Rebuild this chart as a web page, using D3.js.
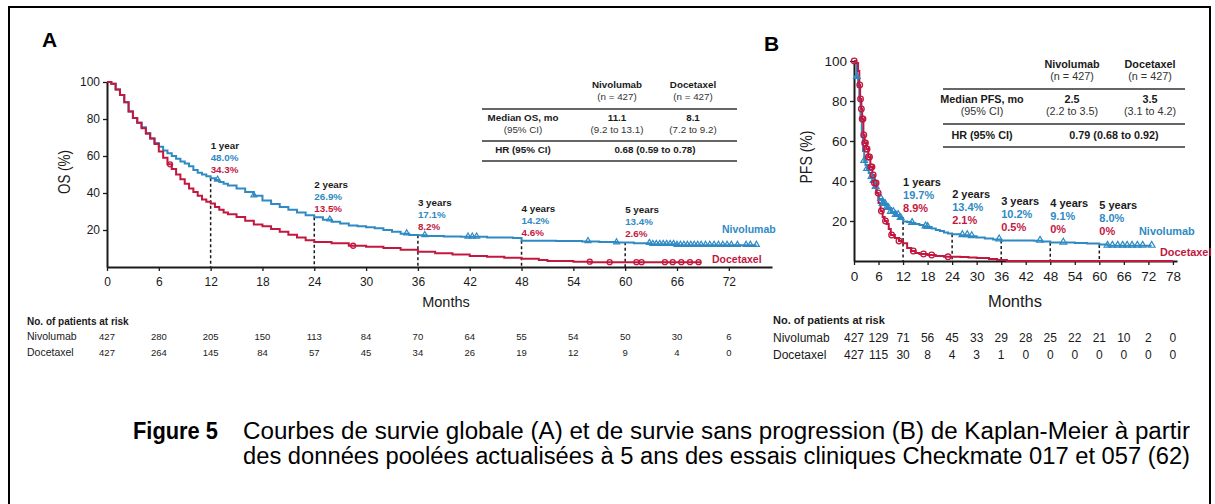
<!DOCTYPE html>
<html><head><meta charset="utf-8">
<script src="https://cdn.jsdelivr.net/npm/d3@7"></script>
<style>
body{margin:0;background:#fff}
svg{display:block}
text{font-family:"Liberation Sans",Arial,Helvetica,sans-serif}
</style>
</head><body>
<svg id="chart" width="1215" height="504"></svg>
<script>
// ---------------- DATA ----------------
const yTicks = [20, 40, 60, 80, 100];
const osXTicks = [0, 6, 12, 18, 24, 30, 36, 42, 48, 54, 60, 66, 72];
const pfsXTicks = [0, 6, 12, 18, 24, 30, 36, 42, 48, 54, 60, 66, 72, 78];

// Overall survival (months, %)
const osNivolumab = [[0,100],[0.5,99],[1,96],[1.5,93],[2,89],[2.5,84],[3,80.5],[3.5,78],[4,75.5],[4.5,72.5],[5,69.5],[5.5,67],[6,65],[6.5,63],[7,61.5],[7.5,60],[8,58.5],[8.5,57],[9,56],[9.5,54.5],[10,52.5],[10.5,51],[11,50],[11.5,49],[12,48],[12.5,47],[13,46],[13.5,45],[14,44],[15,42.5],[16,40.5],[17,38.5],[18,36],[19,34],[20,32.5],[21,31],[22,29.5],[23,28],[24,26.9],[25,25.5],[26,24.5],[27,23.5],[28,22.5],[29,22],[30,21.5],[31,21],[32,20],[33,19],[34,18],[35,17.3],[36,17.1],[37,16.8],[39,16.5],[41,16.3],[44,16],[47,15.7],[48,14.2],[52,14],[55,13.8],[57,13.5],[59,13.2],[61,12.8],[63,12.3],[66,11.8],[75.2,11.8]];
const osDocetaxel = [[0,100],[0.5,99],[1,96],[1.5,93],[2,89],[2.5,84],[3,80.5],[3.5,78],[4,75],[4.5,72],[5,69.5],[5.5,66.5],[6,62.5],[6.5,59],[7,55.5],[7.5,53],[8,50],[8.5,47.5],[9,45],[9.5,42.5],[10,40.5],[10.5,38.5],[11,36.5],[11.5,35.3],[12,34.3],[12.5,32.5],[13,31],[13.5,29.5],[14,28.5],[15,27],[16,25],[17,23],[18,22],[19,20.5],[20,19],[21,17.5],[22,16],[23,14.5],[24,13.5],[26,12.8],[28,11.5],[30,11],[32,10.3],[34,9.3],[36,8.2],[38,7.5],[40,6.8],[42,6],[44,5.5],[46,5],[48,4.4],[50,3.8],[51,3.2],[54,2.9],[56,2.6],[68.8,2.6]];
const osNivolumabCensor = [12.8,17.0,25.8,34.7,36.8,41.8,42.3,42.8,55.7,59.0,62.8,63.2,63.6,64.0,64.4,64.8,65.2,65.6,66.0,66.4,66.8,67.2,67.6,68.0,68.4,68.8,69.3,69.8,70.3,70.8,71.3,71.8,72.3,73.0,74.0,74.5,75.2];
const osDocetaxelCensor = [7.3,28.5,55.9,58.2,61.3,61.9,64.6,65.5,66.5,67.5,68.5];

// Progression-free survival (months, %)
const pfsNivolumab = [[0,100],[0.3,99],[0.7,92],[1,87],[1.3,80],[1.6,72],[1.9,62],[2.2,55],[2.5,50],[2.8,48],[3.2,46],[3.6,44],[4,42],[4.5,40],[5,37],[5.5,34],[6,31],[7,28.5],[8,26.5],[9,24.5],[10,23],[11,21.5],[12,19.7],[13,19.5],[14,19],[15,18.5],[16,18],[17,17.3],[18,17],[19,16.3],[20,15.5],[21,15],[22,14.2],[23,13.8],[24,13.4],[26,12.9],[28,12.4],[30,11.8],[32,11.2],[34,10.8],[36,10.3],[40,10.2],[44,10.1],[46,9.8],[48,9.3],[51,9.2],[54,9],[57,8.7],[60,8.2],[62,7.6],[72.8,7.6]];
const pfsDocetaxel = [[0,100],[0.5,99],[1,95],[1.3,88],[1.5,81],[1.8,76],[2,71],[2.3,63],[2.6,59],[3,56],[3.5,52],[4,47],[4.5,43],[5,39],[5.5,34],[6,29],[6.5,25],[7,22],[7.5,20],[8,18.5],[8.5,16],[9,13],[10,11.5],[11,10],[12,8.9],[13,6.5],[14,5],[15,4],[16,3.5],[18,3],[20,2.5],[22,2.1],[24,2.1],[26,2],[28,1.8],[30,1.5],[33,1],[35,0.5],[37.3,0.5],[37.4,0],[78,0]];
const pfsNivolumabCensor = [0.7,2.5,3.2,4.3,4.8,5.3,6.6,7.0,7.3,7.6,8.0,8.4,9.0,9.6,10.2,10.8,11.4,14.2,17.5,18.0,26.5,27.7,28.8,35.5,45.5,51.2,62.0,63.2,64.5,65.7,66.8,68.0,69.3,70.6,72.8];
const pfsDocetaxelCensor = [0.05,1.4,1.6,1.8,2.0,2.2,2.4,2.6,2.8,3.0,3.2,3.5,3.8,4.1,4.4,4.7,5.0,5.4,5.9,6.7,7.7,9.2,11.0,14.5,17.0,19.0,23.0];

// Landmarks
const osLandmarkMonths = [12, 24, 36, 48, 60];
const osLandmarkTitles = ["1 year", "2 years", "3 years", "4 years", "5 years"];
const osLandmarkNivolumab = [48.0, 26.9, 17.1, 14.2, 13.4];
const osLandmarkDocetaxel = [34.3, 13.5, 8.2, 4.6, 2.6];
const pfsLandmarkMonths = [12, 24, 36, 48, 60];
const pfsLandmarkTitles = ["1 years", "2 years", "3 years", "4 years", "5 years"];
const pfsLandmarkNivolumab = [19.7, 13.4, 10.2, 9.1, 8.0];
const pfsLandmarkDocetaxel = [8.9, 2.1, 0.5, 0, 0];

// Numbers at risk
const osRiskNivolumab = [427,280,205,150,113,84,70,64,55,54,50,30,6];
const osRiskDocetaxel = [427,264,145,84,57,45,34,26,19,12,9,4,0];
const pfsRiskNivolumab = [427,129,71,56,45,33,29,28,25,22,21,10,2,0];
const pfsRiskDocetaxel = [427,115,30,8,4,3,1,0,0,0,0,0,0,0];

// Summary tables
const armNames = ["Nivolumab", "Docetaxel"];
const armN = ["(n = 427)", "(n = 427)"];
const osMedian = ["11.1", "8.1"];
const osMedianCI = ["(9.2 to 13.1)", "(7.2 to 9.2)"];
const osHR = "0.68 (0.59 to 0.78)";
const pfsMedian = ["2.5", "3.5"];
const pfsMedianCI = ["(2.2 to 3.5)", "(3.1 to 4.2)"];
const pfsHR = "0.79 (0.68 to 0.92)";

const captionTitle = "Figure 5";
const captionLines = [
  "Courbes de survie globale (A) et de survie sans progression (B) de Kaplan-Meier à partir",
  "des données poolées actualisées à 5 ans des essais cliniques Checkmate 017 et 057 (62)"
];

// ---------------- DRAW ----------------
const BLUE = "#2f8ac4", RED = "#c2183f", INK = "#1a1a1a";
const svg = d3.select("#chart");

// frame
svg.append("rect").attr("x", 9).attr("y", 7).attr("width", 1201).attr("height", 540)
  .attr("fill", "none").attr("stroke", "#000").attr("stroke-width", 2);

function stepValue(curve, t) {
  let v = curve[0][1];
  for (const p of curve) { if (p[0] <= t) v = p[1]; else break; }
  return v;
}

function panel(cfg) {
  const g = svg.append("g");
  const x = d3.scaleLinear().domain([0, cfg.xMax]).range([cfg.x0, cfg.x1]);
  const y = d3.scaleLinear().domain([0, 100]).range([cfg.y0, cfg.y1]);

  g.append("text").attr("x", cfg.letterX).attr("y", cfg.letterY).attr("font-size", 21)
    .attr("font-weight", "bold").attr("fill", "#000").text(cfg.letter);

  const xAxis = d3.axisBottom(x).tickValues(cfg.xTicks).tickSize(4).tickPadding(cfg.xPad).tickSizeOuter(0);
  const gx = g.append("g").attr("transform", `translate(0,${cfg.y0})`).call(xAxis);
  gx.select(".domain").attr("stroke", INK).attr("stroke-width", 2);
  gx.selectAll(".tick line").attr("stroke", INK).attr("stroke-width", 1.3);
  gx.selectAll(".tick text").attr("font-size", cfg.tickFont).attr("fill", INK)
    .attr("font-family", '"Liberation Sans",Arial,sans-serif');

  const yAxis = d3.axisLeft(y).tickValues(yTicks).tickSize(4).tickPadding(3).tickSizeOuter(0);
  const gy = g.append("g").attr("transform", `translate(${cfg.x0},0)`).call(yAxis);
  gy.select(".domain").attr("stroke", INK).attr("stroke-width", 2);
  gy.selectAll(".tick line").attr("stroke", INK).attr("stroke-width", 1.3);
  gy.selectAll(".tick text").attr("font-size", cfg.tickFont).attr("fill", INK)
    .attr("font-family", '"Liberation Sans",Arial,sans-serif');

  g.append("text").attr("x", cfg.monthsX).attr("y", cfg.monthsY).attr("text-anchor", "middle")
    .attr("font-size", cfg.monthsFont).attr("fill", INK).text("Months");
  g.append("text").attr("transform", `translate(${cfg.yLabX},${cfg.yLabY}) rotate(-90)`)
    .attr("text-anchor", "middle").attr("font-size", cfg.yLabFont).attr("fill", INK)
    .attr("textLength", cfg.yLabLen).attr("lengthAdjust", "spacingAndGlyphs").text(cfg.yLabel);

  cfg.lmMonths.forEach((m, i) => {
    g.append("line").attr("x1", x(m)).attr("x2", x(m)).attr("y1", y(cfg.lmNiv[i])).attr("y2", cfg.y0)
      .attr("stroke", INK).attr("stroke-width", 1.5).attr("stroke-dasharray", "3,2.5");
  });

  const line = d3.line().x(d => x(d[0])).y(d => y(d[1])).curve(d3.curveStepAfter);
  g.append("path").datum(cfg.niv).attr("d", line).attr("fill", "none").attr("stroke", BLUE).attr("stroke-width", 2);
  g.append("path").datum(cfg.doc).attr("d", line).attr("fill", "none").attr("stroke", RED).attr("stroke-width", 2);

  const tri = d3.symbol(d3.symbolTriangle, cfg.triSize);
  g.selectAll(null).data(cfg.nivCensor).join("path").attr("d", tri)
    .attr("transform", t => `translate(${x(t)},${y(stepValue(cfg.niv, t)) - 0.5})`)
    .attr("fill", "none").attr("stroke", BLUE).attr("stroke-width", 1.2);
  g.selectAll(null).data(cfg.docCensor).join("circle")
    .attr("cx", t => x(t)).attr("cy", t => y(stepValue(cfg.doc, t))).attr("r", cfg.circR)
    .attr("fill", "none").attr("stroke", RED).attr("stroke-width", 1.3);

  cfg.lmMonths.forEach((m, i) => {
    const yy = y(cfg.lmNiv[i]);
    const t = g.append("g").attr("font-size", cfg.lmFont).attr("font-weight", "bold");
    t.append("text").attr("x", x(m)).attr("y", yy + cfg.lmOff[0]).attr("fill", INK).text(cfg.lmTitles[i]);
    t.append("text").attr("x", x(m)).attr("y", yy + cfg.lmOff[1]).attr("fill", BLUE).text(cfg.lmNiv[i].toFixed(1) + "%");
    const dv = cfg.lmDoc[i];
    t.append("text").attr("x", x(m)).attr("y", yy + cfg.lmOff[2]).attr("fill", RED).text(dv === 0 ? "0%" : dv.toFixed(1) + "%");
  });

  g.append("text").attr("x", cfg.nivLab[0]).attr("y", cfg.nivLab[1]).attr("font-size", cfg.serFont)
    .attr("font-weight", "bold").attr("fill", BLUE).text(armNames[0]);
  g.append("text").attr("x", cfg.docLab[0]).attr("y", cfg.docLab[1]).attr("font-size", cfg.serFont)
    .attr("font-weight", "bold").attr("fill", RED).text(armNames[1]);

  const tb = g.append("g").attr("text-anchor", "middle").attr("fill", INK);
  const T = cfg.table;
  const colX = [T.c0, T.c1, T.c2];
  armNames.forEach((a, i) => {
    tb.append("text").attr("x", colX[i + 1]).attr("y", T.r[0]).attr("font-size", T.font).attr("font-weight", "bold").text(a);
    tb.append("text").attr("x", colX[i + 1]).attr("y", T.r[1]).attr("font-size", T.font).attr("fill", "#333").text(armN[i]);
    tb.append("text").attr("x", colX[i + 1]).attr("y", T.r[2]).attr("font-size", T.font).attr("font-weight", "bold").text(cfg.median[i]);
    tb.append("text").attr("x", colX[i + 1]).attr("y", T.r[3]).attr("font-size", T.font).attr("fill", "#333").text(cfg.medianCI[i]);
  });
  tb.append("text").attr("x", T.c0).attr("y", T.r[2]).attr("font-size", T.font).attr("font-weight", "bold").text(cfg.medianLabel);
  tb.append("text").attr("x", T.c0).attr("y", T.r[3]).attr("font-size", T.font).attr("fill", "#333").text("(95% CI)");
  tb.append("text").attr("x", T.c0).attr("y", T.r[4]).attr("font-size", T.font).attr("font-weight", "bold").text("HR (95% CI)");
  tb.append("text").attr("x", T.hrX).attr("y", T.r[4]).attr("font-size", T.font).attr("font-weight", "bold").text(cfg.hr);
  T.lines.forEach(ly => {
    tb.append("line").attr("x1", T.l0).attr("x2", T.l1).attr("y1", ly).attr("y2", ly)
      .attr("stroke", "#333").attr("stroke-width", 1.6);
  });

  const rk = g.append("g").attr("fill", INK);
  rk.append("text").attr("x", cfg.riskX).attr("y", cfg.riskY[0]).attr("font-size", cfg.riskHeadFont)
    .attr("font-weight", "bold").text("No. of patients at risk");
  [cfg.riskNiv, cfg.riskDoc].forEach((row, r) => {
    rk.append("text").attr("x", cfg.riskX).attr("y", cfg.riskY[r + 1]).attr("font-size", cfg.riskLabFont).text(armNames[r]);
    rk.selectAll(null).data(row).join("text")
      .attr("x", (d, i) => x(cfg.xTicks[i])).attr("y", cfg.riskY[r + 1])
      .attr("text-anchor", "middle").attr("font-size", cfg.riskNumFont).text(d => d);
  });
}

panel({
  letter: "A", letterX: 42, letterY: 47,
  xMax: 77, x0: 107, x1: 772, y0: 267, y1: 82, xTicks: osXTicks, xPad: 6, tickFont: 12,
  monthsX: 446, monthsY: 307, monthsFont: 14.5,
  yLabel: "OS (%)", yLabX: 70, yLabY: 172, yLabFont: 17, yLabLen: 44,
  niv: osNivolumab, doc: osDocetaxel, nivCensor: osNivolumabCensor, docCensor: osDocetaxelCensor,
  triSize: 15, circR: 2.5,
  lmMonths: osLandmarkMonths, lmTitles: osLandmarkTitles, lmNiv: osLandmarkNivolumab, lmDoc: osLandmarkDocetaxel,
  lmOff: [-29, -17, -5], lmFont: 9.8,
  nivLab: [722, 233], docLab: [712, 263], serFont: 10.5,
  median: osMedian, medianCI: osMedianCI, medianLabel: "Median OS, mo", hr: osHR,
  table: { c0: 523, c1: 617, c2: 693, hrX: 655, r: [88, 100, 121, 133, 153], lines: [109, 141, 161], l0: 482, l1: 737, font: 9.8 },
  riskX: 27, riskY: [325, 340, 356], riskNiv: osRiskNivolumab, riskDoc: osRiskDocetaxel,
  riskHeadFont: 10, riskLabFont: 10.5, riskNumFont: 9.5
});

panel({
  letter: "B", letterX: 764, letterY: 51,
  xMax: 79, x0: 854, x1: 1177, y0: 261, y1: 61, xTicks: pfsXTicks, xPad: 6, tickFont: 13.5,
  monthsX: 1015, monthsY: 307, monthsFont: 16.5,
  yLabel: "PFS (%)", yLabX: 812, yLabY: 157, yLabFont: 17, yLabLen: 53,
  niv: pfsNivolumab, doc: pfsDocetaxel, nivCensor: pfsNivolumabCensor, docCensor: pfsDocetaxelCensor,
  triSize: 20, circR: 2.8,
  lmMonths: pfsLandmarkMonths, lmTitles: pfsLandmarkTitles, lmNiv: pfsLandmarkNivolumab, lmDoc: pfsLandmarkDocetaxel,
  lmOff: [-36, -23, -10], lmFont: 11,
  nivLab: [1139, 235], docLab: [1160, 256], serFont: 10.9,
  median: pfsMedian, medianCI: pfsMedianCI, medianLabel: "Median PFS, mo", hr: pfsHR,
  table: { c0: 982, c1: 1072, c2: 1150, hrX: 1114, r: [68, 80, 103, 115, 139], lines: [89, 124, 147], l0: 943, l1: 1185, font: 10.8 },
  riskX: 773, riskY: [324, 342, 359], riskNiv: pfsRiskNivolumab, riskDoc: pfsRiskDocetaxel,
  riskHeadFont: 11, riskLabFont: 12, riskNumFont: 12
});

// caption
const cap = svg.append("g").attr("fill", "#000");
cap.append("text").attr("x", 133).attr("y", 439).attr("font-size", 23).attr("font-weight", "bold")
  .attr("textLength", 85).attr("lengthAdjust", "spacingAndGlyphs").text(captionTitle);
captionLines.forEach((l, i) => {
  cap.append("text").attr("x", 243).attr("y", 439 + i * 25).attr("font-size", 23)
    .attr("textLength", 947).attr("lengthAdjust", "spacingAndGlyphs").text(l);
});
</script>
</body></html>
